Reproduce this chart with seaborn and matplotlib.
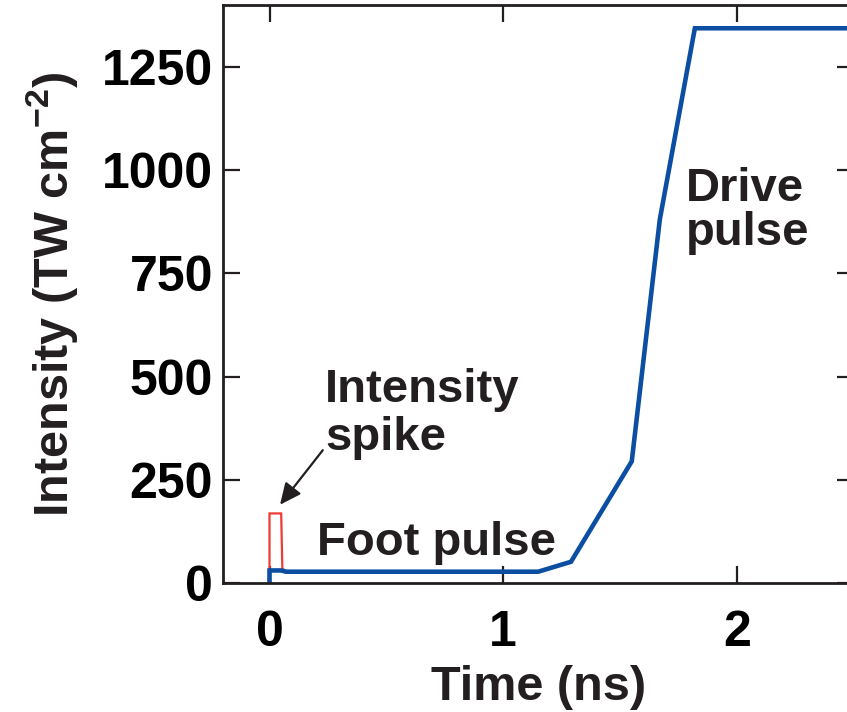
import matplotlib
matplotlib.use("Agg")
import matplotlib.pyplot as plt
import seaborn as sns
import pandas as pd

# Data
drive_time = [0.0, 0.0, 0.05, 0.07, 1.15, 1.29, 1.55, 1.67, 1.82, 2.6]
drive_intensity = [0, 31, 31, 28, 28, 52, 295, 880, 1343, 1343]
spike_time = [0.0, 0.0, 0.05, 0.055, 0.07]
spike_intensity = [31, 169, 169, 35, 30]
x_ticks = [0, 1, 2]
y_ticks = [0, 250, 500, 750, 1000, 1250]

sns.set_style("ticks")
plt.rcParams['font.family'] = ['Liberation Sans', 'DejaVu Sans']
plt.rcParams['mathtext.fontset'] = 'custom'
plt.rcParams['mathtext.rm'] = 'Liberation Sans:bold'
plt.rcParams['mathtext.bf'] = 'Liberation Sans:bold'
plt.rcParams['mathtext.default'] = 'bf'

INK = "#231f20"
BLUE = "#0b4ea2"
RED = "#ee3b35"
FS_TICK = 36
FS_LAB = 35
FS_TXT = 34

fig = plt.figure(figsize=(8.47, 7.12), dpi=100)
ax = fig.add_axes([0.263, 0.1808, 0.745, 0.8126])

df_spike = pd.DataFrame({"t": spike_time, "I": spike_intensity})
df_drive = pd.DataFrame({"t": drive_time, "I": drive_intensity})
sns.lineplot(data=df_spike, x="t", y="I", sort=False, estimator=None,
             color=RED, lw=1.6, ax=ax, solid_joinstyle="miter")
sns.lineplot(data=df_drive, x="t", y="I", sort=False, estimator=None,
             color=BLUE, lw=3.3, ax=ax, solid_joinstyle="miter")

ax.set_xlim(-0.2, 2.5)
ax.set_ylim(0, 1400)
ax.set_xticks(x_ticks)
ax.set_yticks(y_ticks)
ax.set_xticklabels([str(v) for v in x_ticks])
ax.set_yticklabels([str(v) for v in y_ticks])

for s in ax.spines.values():
    s.set_color(INK)
    s.set_linewidth(2.0)

ax.tick_params(axis="both", direction="in", length=12.5, width=1.6,
               color=INK, top=True, right=True, labelsize=FS_TICK,
               labelcolor="black")
ax.tick_params(axis="x", pad=19)
ax.tick_params(axis="y", pad=7)
for lab in ax.get_xticklabels() + ax.get_yticklabels():
    lab.set_fontweight("bold")

ax.set_xlabel("Time (ns)", fontsize=FS_LAB, fontweight="bold", color=INK, labelpad=7)
ax.set_ylabel("Intensity (TW cm$^{\\mathbf{-2}}$)", fontsize=FS_LAB,
              fontweight="bold", color=INK, labelpad=16)

ax.text(0.237, 410, "Intensity\nspike", fontsize=FS_TXT, fontweight="bold",
        color=INK, ha="left", va="center", linespacing=1.1)
ax.text(0.205, 97, "Foot pulse", fontsize=FS_TXT, fontweight="bold",
        color=INK, ha="left", va="center")
ax.text(1.78, 900, "Drive\npulse", fontsize=FS_TXT, fontweight="bold",
        color=INK, ha="left", va="center", linespacing=1.0)

ax.annotate("", xy=(0.045, 190), xytext=(0.228, 322),
            arrowprops=dict(arrowstyle="-|>,head_length=1.3,head_width=0.6",
                            color=INK, lw=1.6, shrinkA=0, shrinkB=0))

fig.savefig("out.png", dpi=100)
